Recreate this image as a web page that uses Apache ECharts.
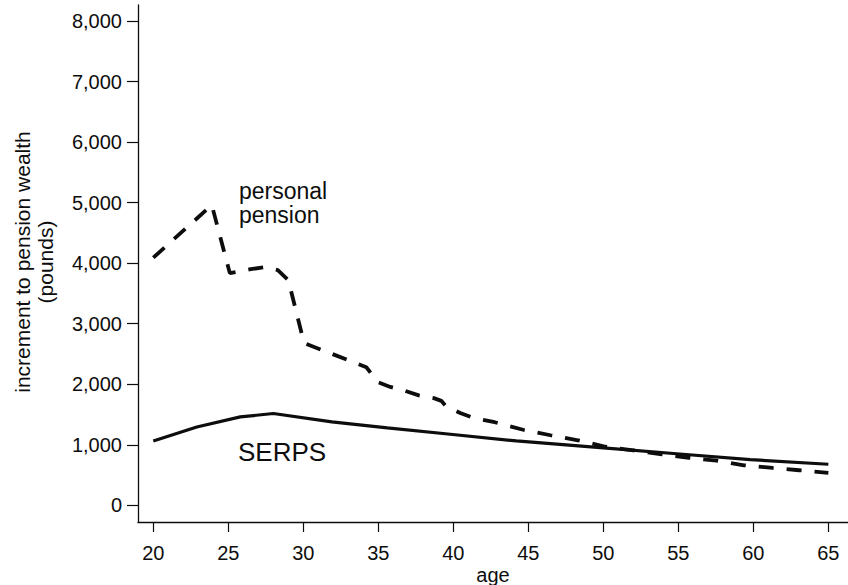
<!DOCTYPE html>
<html>
<head>
<meta charset="utf-8">
<script src="https://cdn.jsdelivr.net/npm/echarts@6/dist/echarts.min.js"></script>
<style>
  html, body { margin: 0; padding: 0; background: #fff; }
  #main { width: 848px; height: 585px; }
</style>
</head>
<body>
<div id="main"></div>
<script>
// ages on the x axis
const xTicks = [20, 25, 30, 35, 40, 45, 50, 55, 60, 65];
const yTicks = [0, 1000, 2000, 3000, 4000, 5000, 6000, 7000, 8000];

const personalAges = [20, 23.9, 25.1, 26.5, 27.4, 28.3, 29.0, 30.05, 31.4, 34.2, 35.0, 35.8, 36.8, 37.7, 38.7, 39.2, 39.5, 40.5, 41.4, 42.76, 44.65, 46.48, 48.31, 50.15, 52.0, 53.91, 55.71, 57.55, 59.38, 61.28, 63.05, 65];
const personalValues = [4090, 4960, 3835, 3900, 3934, 3884, 3720, 2680, 2550, 2280, 2030, 1955, 1890, 1815, 1770, 1725, 1640, 1520, 1440, 1372, 1248, 1157, 1074, 967, 909, 843, 785, 736, 661, 617, 579, 537];

const serpsAges = [20, 22.9, 25.8, 28.0, 31.9, 35.6, 39.8, 44.2, 50.0, 55.3, 59.8, 65];
const serpsValues = [1063, 1294, 1460, 1516, 1377, 1278, 1174, 1063, 947, 843, 755, 678];

const toPairs = (xs, ys) => xs.map((x, i) => [x, ys[i]]);

var myChart = echarts.init(document.getElementById('main'), null, {renderer: 'svg'});
var font = 'Liberation Sans, Arial, Helvetica, sans-serif';
var ink = '#0d0d0d';

myChart.setOption({
  animation: false,
  backgroundColor: '#fff',
  grid: { left: 138, right: 0, top: 5, bottom: 63, containLabel: false, outerBoundsMode: 'none' },
  xAxis: {
    type: 'value',
    min: 18.98,
    max: 66.31,
    name: 'age',
    nameLocation: 'middle',
    nameGap: 43,
    nameMoveOverlap: false,
    nameTextStyle: { color: ink, fontSize: 20, fontFamily: font },
    axisLine: { show: true, onZero: false, lineStyle: { color: ink, width: 1.3 } },
    axisTick: { show: true, customValues: xTicks, length: 10, lineStyle: { color: ink, width: 1.2 } },
    axisLabel: { customValues: xTicks, margin: 21, color: ink, fontSize: 20, fontFamily: font },
    splitLine: { show: false }
  },
  yAxis: {
    type: 'value',
    min: -276,
    max: 8264,
    axisLine: { show: true, onZero: false, lineStyle: { color: ink, width: 1.3 } },
    axisTick: { show: true, customValues: yTicks, length: 11, lineStyle: { color: ink, width: 1.2 } },
    axisLabel: {
      customValues: yTicks, margin: 16, color: ink, fontSize: 20, fontFamily: font,
      formatter: v => v.toLocaleString('en-US')
    },
    splitLine: { show: false }
  },
  graphic: [
    {
      type: 'text', x: 34, y: 262, rotation: Math.PI / 2,
      style: {
        text: 'increment to pension wealth\n(pounds)', fill: ink, font: '21px ' + font,
        align: 'center', verticalAlign: 'middle', lineHeight: 23
      }
    },
    {
      type: 'text', x: 239, y: 191,
      style: { text: 'personal', fill: ink, font: '23px ' + font, align: 'left', verticalAlign: 'middle' }
    },
    {
      type: 'text', x: 239, y: 215,
      style: { text: 'pension', fill: ink, font: '23px ' + font, align: 'left', verticalAlign: 'middle' }
    },
    {
      type: 'text', x: 238, y: 452,
      style: { text: 'SERPS', fill: ink, font: '26px ' + font, align: 'left', verticalAlign: 'middle' }
    }
  ],
  series: [
    {
      name: 'personal pension',
      type: 'line',
      data: toPairs(personalAges, personalValues),
      showSymbol: false,
      lineStyle: { color: ink, width: 3.8, type: [15, 13] }
    },
    {
      name: 'SERPS',
      type: 'line',
      data: toPairs(serpsAges, serpsValues),
      showSymbol: false,
      lineStyle: { color: ink, width: 3.2, type: 'solid' }
    }
  ]
});
</script>
</body>
</html>
